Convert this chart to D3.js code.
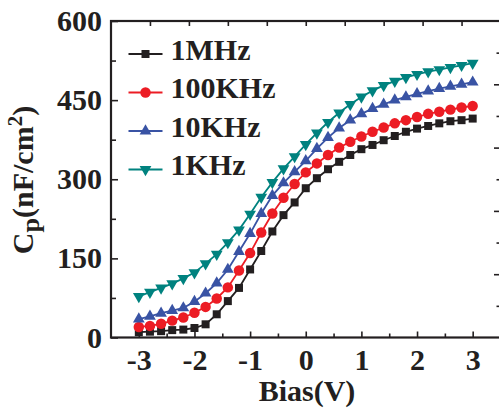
<!DOCTYPE html>
<html>
<head>
<meta charset="utf-8">
<script src="https://cdn.jsdelivr.net/npm/d3@7"></script>
<style>
  html, body { margin: 0; padding: 0; background: #fff; }
  svg { display: block; }
  text { font-family: "Liberation Serif", "Times New Roman", serif; font-weight: bold; fill: #231f20; }
</style>
</head>
<body>
<svg id="chart" width="499" height="408"></svg>
<script>
// Bias sweep (V), -3 V to 3 V in 0.2 V steps
const bias = [-3.0, -2.8, -2.6, -2.4, -2.2, -2.0, -1.8, -1.6, -1.4, -1.2, -1.0,
              -0.8, -0.6, -0.4, -0.2, 0.0, 0.2, 0.4, 0.6, 0.8, 1.0,
              1.2, 1.4, 1.6, 1.8, 2.0, 2.2, 2.4, 2.6, 2.8, 3.0];

// Capacitance Cp (nF/cm^2) per measurement frequency
const cp1MHz   = [10, 11, 12, 14, 15, 18, 25, 44, 69, 94, 129,
                  164, 201, 232, 256, 283, 302, 319, 333, 346, 357,
                  365, 374, 382, 390, 396, 401, 406, 410, 412, 415];
const cp100KHz = [20, 22, 26, 32, 38, 47, 58, 74, 95, 127, 160,
                  199, 235, 265, 291, 313, 330, 346, 360, 371, 381,
                  390, 398, 406, 412, 418, 424, 428, 432, 436, 439];
const cp10KHz  = [35, 40, 46, 51, 56, 68, 84, 103, 129, 163, 197,
                  235, 269, 293, 314, 335, 358, 379, 397, 412, 424,
                  434, 442, 450, 456, 462, 467, 472, 476, 480, 484];
const cp1KHz   = [78, 86, 94, 102, 112, 123, 140, 158, 180, 204, 234,
                  266, 294, 320, 343, 366, 388, 408, 426, 442, 456,
                  468, 478, 486, 493, 499, 504, 508, 512, 516, 520];

const seriesNames = ["1MHz", "100KHz", "10KHz", "1KHz"];
const seriesValues = [cp1MHz, cp100KHz, cp10KHz, cp1KHz];
const seriesColors = ["#231f20", "#ec1c24", "#3953a4", "#00827f"];
const seriesSymbols = ["square", "circle", "triangleUp", "triangleDown"];

const xTicks = [-3, -2, -1, 0, 1, 2, 3];
const yTicks = [0, 150, 300, 450, 600];

const svg = d3.select("#chart");
const plotLeft = 111, plotRight = 500.5, plotTop = 21, plotBottom = 337.5;

const x = d3.scaleLinear().domain([-3.5, 3.5]).range([plotLeft, plotRight]);
const y = d3.scaleLinear().domain([0, 600]).range([plotBottom, plotTop]);

// Frame
svg.append("rect")
  .attr("x", plotLeft).attr("y", plotTop)
  .attr("width", plotRight - plotLeft).attr("height", plotBottom - plotTop)
  .attr("fill", "none").attr("stroke", "#231f20").attr("stroke-width", 2.2);

const tickStyle = g => g.selectAll("line").attr("stroke", "#231f20").attr("stroke-width", 1.6);
const labelStyle = g => g.selectAll("text").attr("font-size", 30).attr("fill", "#231f20")
  .attr("font-family", "Liberation Serif, serif").attr("font-weight", "bold");

// Bottom axis: labelled majors, inward ticks
svg.append("g").attr("transform", `translate(0,${plotBottom})`)
  .call(d3.axisBottom(x).tickValues(xTicks).tickSize(-6).tickPadding(11)
        .tickFormat(d => d < 0 ? "-" + Math.abs(d) : String(d)))
  .call(g => g.select(".domain").remove()).call(labelStyle).call(tickStyle);
svg.append("g").attr("transform", `translate(0,${plotBottom})`)
  .call(d3.axisBottom(x).tickValues(d3.range(-2.5, 3.5, 1)).tickSize(-4).tickFormat(""))
  .call(g => g.select(".domain").remove()).call(tickStyle);

// Left axis
svg.append("g").attr("transform", `translate(${plotLeft},0)`)
  .call(d3.axisLeft(y).tickValues(yTicks).tickSize(-7).tickPadding(9))
  .call(g => g.select(".domain").remove()).call(labelStyle).call(tickStyle);
svg.append("g").attr("transform", `translate(${plotLeft},0)`)
  .call(d3.axisLeft(y).tickValues([75, 225, 375, 525]).tickSize(-5).tickFormat(""))
  .call(g => g.select(".domain").remove()).call(tickStyle);

// Top axis ticks
svg.append("g").attr("transform", `translate(0,${plotTop})`)
  .call(d3.axisTop(x).tickValues(d3.range(-2.8, 2.81, 0.7)).tickSize(-5).tickFormat(""))
  .call(g => g.select(".domain").remove()).call(tickStyle);

// Right axis ticks
svg.append("g").attr("transform", `translate(${plotRight},0)`)
  .call(d3.axisRight(y).tickValues([120, 240, 360, 480]).tickSize(-6.5).tickFormat(""))
  .call(g => g.select(".domain").remove()).call(tickStyle);
svg.append("g").attr("transform", `translate(${plotRight},0)`)
  .call(d3.axisRight(y).tickValues([60, 180, 300, 420, 540]).tickSize(-4).tickFormat(""))
  .call(g => g.select(".domain").remove()).call(tickStyle);

// Marker shapes
const symbolFor = {
  square: d3.symbol().type(d3.symbolSquare).size(64),
  circle: d3.symbol().type(d3.symbolCircle).size(86),
  triangleUp: d3.symbol().type(d3.symbolTriangle).size(60),
  triangleDown: d3.symbol().type(d3.symbolTriangle).size(60)
};
function drawMarker(g, kind, cx, cy, color) {
  g.append("path")
    .attr("d", symbolFor[kind]())
    .attr("transform", `translate(${cx},${cy})` + (kind === "triangleDown" ? " rotate(180)" : ""))
    .attr("fill", color);
}

const line = d3.line().x((d, i) => x(bias[i])).y(d => y(d));

seriesValues.forEach((vals, s) => {
  const g = svg.append("g");
  g.append("path").datum(vals).attr("d", line)
    .attr("fill", "none").attr("stroke", seriesColors[s]).attr("stroke-width", 1.8);
  vals.forEach((v, i) => drawMarker(g, seriesSymbols[s], x(bias[i]), y(v), seriesColors[s]));
});

// Legend
const legend = svg.append("g");
seriesNames.forEach((name, s) => {
  const ly = 54 + s * 38.5;
  legend.append("line").attr("x1", 128.5).attr("x2", 162.5).attr("y1", ly).attr("y2", ly)
    .attr("stroke", seriesColors[s]).attr("stroke-width", 1.8);
  drawMarker(legend, seriesSymbols[s], 145.5, ly, seriesColors[s]);
  legend.append("text").attr("x", 170.5).attr("y", ly + 5.5)
    .attr("font-size", 30).text(name);
});

// Axis titles
svg.append("text").attr("x", 307).attr("y", 401)
  .attr("text-anchor", "middle").attr("font-size", 30).text("Bias(V)");

const yTitle = svg.append("text")
  .attr("transform", "translate(33,180) rotate(-90)")
  .attr("text-anchor", "middle").attr("font-size", 30);
yTitle.append("tspan").text("C");
yTitle.append("tspan").attr("font-size", 26).attr("dy", 6).text("p");
yTitle.append("tspan").attr("dy", -6).text("(nF/cm");
yTitle.append("tspan").attr("font-size", 21).attr("dy", -11).text("2");
yTitle.append("tspan").attr("dy", 11).text(")");
</script>
</body>
</html>
